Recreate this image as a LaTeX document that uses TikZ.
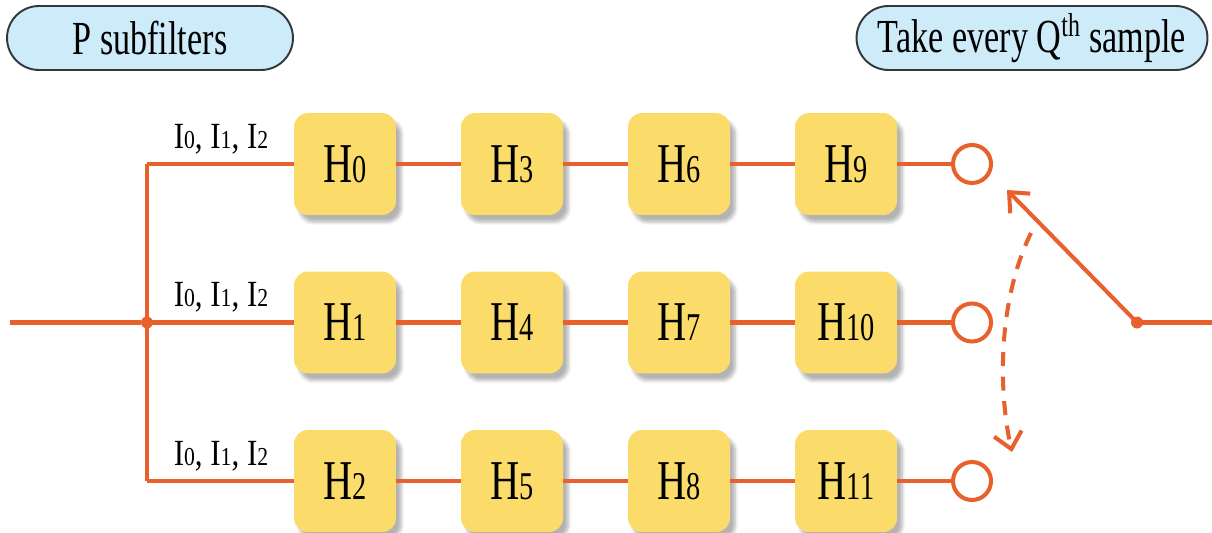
\documentclass[tikz,border=0pt]{standalone}
\usepackage{fontspec}
\setmainfont{Liberation Serif}[FakeStretch=0.72]
\usetikzlibrary{arrows.meta,shapes.misc,shadows.blur}
\definecolor{firorange}{HTML}{E8612C}
\definecolor{firyellow}{HTML}{FBDC6B}
\definecolor{firblue}{HTML}{CDEBF8}
\definecolor{firgray}{HTML}{33363A}
\newcommand{\dg}[1]{\scalebox{0.7}{#1}}
\tikzset{swtip/.tip={Straight Barb[length=9pt,width=16pt,line width=2.3pt]}}
\begin{document}
\begin{tikzpicture}[x=0.02cm,y=-0.02cm]
\tikzstyle{every node}=[text=black]
\tikzstyle{wire}=[firorange,line width=2.3pt]
\tikzstyle{hbox}=[fill=firyellow,rounded corners=0.28cm,minimum size=2.04cm,inner sep=0pt,font=\fontsize{32}{36}\selectfont,blur shadow={shadow xshift=3pt,shadow yshift=-4pt,shadow opacity=30,shadow blur steps=6}]
\tikzstyle{pill}=[rounded rectangle,draw=firgray,line width=1.1pt,fill=firblue,minimum height=1.28cm,inner sep=0pt,font=\fontsize{27}{30}\selectfont]
\tikzstyle{tap}=[circle,draw=firorange,line width=2.3pt,fill=white,minimum size=0.76cm,inner sep=0pt]
\tikzstyle{joint}=[circle,fill=firorange,minimum size=0.24cm,inner sep=0pt]
\tikzstyle{ilabel}=[font=\fontsize{21}{24}\selectfont\addfontfeatures{FakeStretch=0.84},inner sep=0pt]
\useasboundingbox (0,0) rectangle (1212,533);
\node[pill,minimum width=5.72cm] (title) at (150,38) {P subfilters};
\node[pill,minimum width=7.02cm] (rule) at (1032,38) {Take every Q\textsuperscript{th} sample};
\foreach \c in {0,...,3}
  \foreach \r in {0,...,2}{
    \pgfmathtruncatemacro\n{\r+3*\c}
    \node[hbox] (h\n) at (345+167*\c,164+158.5*\r) {H\dg{\n}};
  }
\foreach \r in {0,1,2}{
  \node[tap] (o\r) at (972,164+158.5*\r) {};
  \node[ilabel] (l\r) at (221,139+158.5*\r) {I\dg{0}, I\dg{1}, I\dg{2}};
}
\coordinate (in) at (10,322.5);
\node[joint] (j) at (147,322.5) {};
\node[joint] (sw) at (1137,322.5) {};
\coordinate (out) at (1212,322.5);
\coordinate (tip) at (1007,190);
\coordinate (da) at (1031,233);
\coordinate (db) at (1012,452);
\draw[wire] (in) -- (j);
\draw[wire] (j.center|-h0) -- (j.center|-h2);
\foreach \r in {0,1,2}{
  \pgfmathtruncatemacro\a{\r+3}
  \pgfmathtruncatemacro\b{\r+6}
  \pgfmathtruncatemacro\e{\r+9}
  \draw[wire] (j.center|-h\r) -- (h\r);
  \draw[wire] (h\r) -- (h\a);
  \draw[wire] (h\a) -- (h\b);
  \draw[wire] (h\b) -- (h\e);
  \draw[wire] (h\e) -- (o\r);
}
\draw[wire] (sw.center) -- (out);
\draw[wire,swtip-] (tip) -- (sw.center);
\draw[wire,dash pattern=on 8pt off 6pt,-swtip] (da) .. controls (998,300) and (998,390) .. (db);
\end{tikzpicture}
\end{document}
